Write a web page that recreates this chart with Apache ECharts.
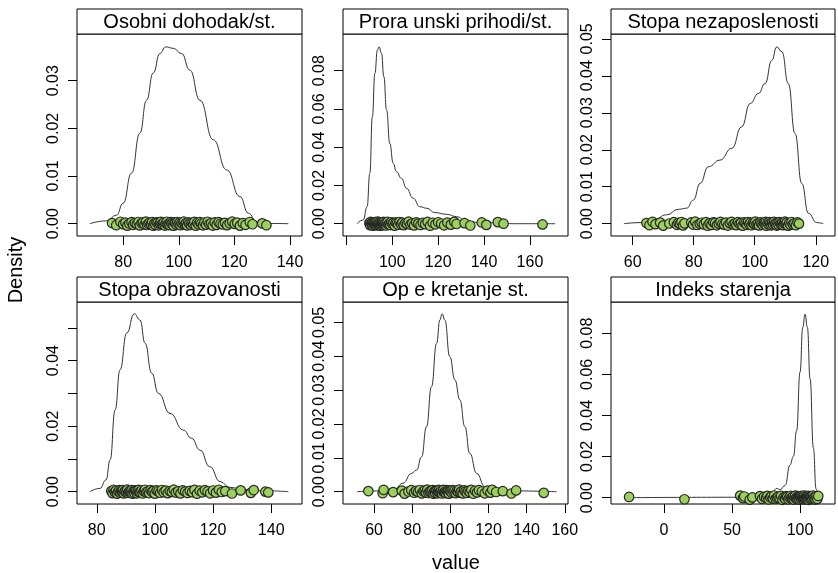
<!DOCTYPE html>
<html><head><meta charset="utf-8">
<script src="https://cdn.jsdelivr.net/npm/echarts@6/dist/echarts.min.js"></script>
<style>html,body{margin:0;padding:0;background:#fff}#c{width:838px;height:573px}</style>
</head><body><div id="c"></div>
<script>
// ---------- data ----------
const panelTitles = ["Osobni dohodak/st.", "Prora unski prihodi/st.", "Stopa nezaposlenosti",
                     "Stopa obrazovanosti", "Op e kretanje st.", "Indeks starenja"];
const xAxisTitle = "value";
const yAxisTitle = "Density";

// density curves [x, density]
const curve1 = [[68,0],[74,0.0006],[77.6,0.0018],[80,0.0043],[83,0.0106],[86,0.019],[88.4,0.0259],[90.8,0.0316],[93.2,0.0357],[95.3,0.0371],[98,0.0368],[101,0.0357],[104,0.0322],[107.6,0.0259],[112.4,0.0176],[117.2,0.0113],[122,0.0057],[125,0.0022],[128,0.0004],[132.8,0.00005],[139.4,0]];
const curve2 = [[84.6,0],[87.3,0.0019],[89,0.0089],[90.2,0.0264],[91.3,0.0559],[92.4,0.0786],[93.5,0.0908],[94.2,0.0925],[95.3,0.0891],[96.3,0.0769],[97.5,0.0594],[98.9,0.042],[100.4,0.0316],[101.8,0.0272],[104,0.0237],[106.2,0.0185],[109.1,0.0133],[112,0.0089],[114.9,0.0081],[118.6,0.0058],[123.7,0.0049],[128,0.0037],[132.4,0.0014],[138.2,0.0005],[146.9,0.0005],[152.8,0],[171,0]];
const curve3 = [[57.1,0],[62.4,0.0003],[66.8,0.001],[71.1,0.0024],[75,0.0039],[77.7,0.0042],[79.9,0.0064],[82.1,0.0109],[84.8,0.0154],[88.6,0.0172],[92.5,0.0204],[95.7,0.0262],[98.5,0.0325],[101.2,0.0352],[103.4,0.0379],[105.6,0.0442],[107.2,0.0478],[108.9,0.0465],[111,0.0379],[113.2,0.0244],[115.4,0.0109],[117.6,0.0028],[120.3,0.0003],[122.5,0]];
const curve4 = [[77.7,0],[81.1,0.001],[83.2,0.0036],[84.6,0.0097],[86.3,0.0249],[88,0.0372],[90.3,0.0484],[92.9,0.0543],[94.9,0.0524],[96.6,0.0453],[98.9,0.0362],[101.2,0.03],[105.2,0.0239],[109.8,0.0188],[112.6,0.0163],[115.5,0.0127],[118.9,0.0076],[122.4,0.0031],[125.8,0.0013],[130.4,0.0007],[137.3,0.0003],[145.9,0]];
const curve5 = [[51.1,0],[70,0.0003],[75.2,0.0025],[79.6,0.0054],[82.3,0.0064],[84.9,0.0103],[87.5,0.0192],[90.1,0.031],[92.8,0.0438],[94.5,0.0507],[95.7,0.0525],[97.1,0.0507],[99.7,0.0399],[102.4,0.033],[105,0.0271],[107.6,0.0192],[110.2,0.0113],[113.8,0.0054],[118.1,0.0015],[124.3,0.0003],[155.7,0]];
const curve6 = [[-25.7,0],[58.3,0.0002],[77.9,0.0006],[82.9,0.0045],[85.3,0.0039],[89,0.0059],[92.6,0.0159],[95.1,0.0201],[97.5,0.0326],[100,0.0611],[102,0.0828],[103.7,0.0892],[105.4,0.0828],[107.4,0.0577],[109.8,0.0243],[111.8,0.0042],[113.5,0.0002]];

// observed values (drawn as jittered points along density = 0)
const obs1 = [76,77.5,79,80,80.8,81.5,82.2,83,83.6,84.2,84.9,85.5,86,86.6,87.1,87.7,88.2,88.6,89.1,89.5,90,90.4,90.8,91.2,91.6,92,92.4,92.8,93.2,93.5,93.9,94.3,94.6,95,95.3,95.7,96,96.4,96.7,97.1,97.4,97.8,98.1,98.5,98.8,99.2,99.5,99.9,100.3,100.6,101,101.4,101.8,102.2,102.6,103,103.4,103.8,104.3,104.7,105.2,105.6,106.1,106.6,107.1,107.6,108.1,108.7,109.2,109.8,110.4,111,111.6,112.2,112.9,113.6,114.3,115,115.8,116.6,117.4,118.3,119.2,120.1,121,122,123,124,125.5,126.5,130,131.5];
const obs2 = [90,90.3,90.6,90.9,91.2,91.4,91.7,91.9,92.1,92.3,92.5,92.7,92.9,93.1,93.3,93.5,93.6,93.8,94,94.2,94.3,94.5,94.7,94.9,95.1,95.3,95.5,95.7,95.9,96.2,96.4,96.7,97,97.3,97.6,97.9,98.3,98.7,99.1,99.5,100,100.5,101,101.5,102,102.6,103.2,103.8,104.4,105,105.7,106.4,107.1,107.9,108.7,109.5,110.4,111.3,112.3,113.3,114.3,115.4,116.5,117.6,118.8,120,121.3,122.6,124,125.5,127,128,131.5,134,139,141,146,148.5,165.5];
const obs3 = [64.5,65.5,66.5,67.5,69,70,72,73.5,74.5,75,75.5,76,76.5,77,79.2,79.8,80.5,81.2,82,82.6,83.3,84,84.6,85.2,85.8,86.4,87,87.6,88.2,88.8,89.4,90,90.6,91.2,91.8,92.4,93,93.5,94,94.5,95,95.5,96,96.5,97,97.4,97.8,98.2,98.6,99,99.4,99.8,100.2,100.6,101,101.4,101.8,102.2,102.6,103,103.3,103.6,103.9,104.2,104.5,104.8,105.1,105.4,105.7,106,106.3,106.6,106.9,107.2,107.5,107.8,108.1,108.4,108.7,109,109.3,109.6,109.9,110.2,110.5,110.9,111.3,111.7,112.1,112.5,113,113.5,114,114.5];
const obs4 = [85,85.4,85.8,86.2,86.6,87,87.4,87.8,88.1,88.4,88.7,89,89.3,89.6,89.9,90.2,90.5,90.8,91.1,91.4,91.7,92,92.3,92.6,92.9,93.2,93.5,93.8,94.1,94.4,94.7,95,95.4,95.8,96.2,96.6,97,97.5,98,98.5,99,99.5,100,100.6,101.2,101.8,102.4,103,103.7,104.4,105.1,105.8,106.5,107.2,108,108.8,109.6,110.4,111.2,112,112.8,113.6,114.5,115.4,116.3,117.2,118.1,119,120,121,122,123,124.2,126.5,129.5,133,134,138,139];
const obs5 = [57,64.5,65,70,74.5,76,78,79.5,81,82,83,84,85,85.8,86.5,87.2,87.9,88.5,89.1,89.6,90.1,90.6,91.1,91.6,92,92.4,92.8,93.2,93.6,94,94.4,94.8,95.2,95.6,96,96.4,96.8,97.2,97.6,98,98.4,98.8,99.2,99.7,100.2,100.7,101.2,101.7,102.2,102.8,103.4,104,104.6,105.2,105.8,106.5,107.2,107.9,108.6,109.4,110.2,111,112,113,114,115,116.5,118,119.5,121,122,124,127.5,132,134.5,149];
const obs6 = [-25.7,15,56,58,59,63,65,70.5,72,73.5,75,76,77,78,79,80,81,82,83,84,85,86,87,88,89,89.8,90.6,91.4,92.2,93,93.6,94.2,94.8,95.4,96,96.5,97,97.5,98,98.4,98.8,99.2,99.6,100,100.4,100.8,101.2,101.6,102,102.3,102.6,102.9,103.2,103.5,103.8,104.1,104.4,104.7,105,105.3,105.6,105.9,106.2,106.5,106.9,107.3,107.7,108.1,108.6,109.1,109.6,110.2,110.8,111.4,112,112.7,113.4];
// vertical jitter of each point, as a fraction of the jitter amount (fixed values)
const jitter = [0.3,-0.7,0.9,-0.2,0.5,-0.9,0.1,0.7,-0.5,0.4,-0.1,0.8,-0.8,0.2,0.6,-0.4,0.95,-0.6,0,0.45,
  -0.3,0.75,-0.95,0.15,-0.55,0.65,0.35,-0.75,0.05,0.85,-0.15,-0.45,0.55,-0.85,0.25,0.9,-0.35,0.1,-0.65,0.7,
  -0.05,0.4,-0.9,0.6,0.2,-0.5,0.8,-0.25,0.5,-0.7,0.3,-0.1,0.95,-0.4,0.15,-0.8,0.65,0.05,-0.6,0.35,
  -0.2,0.85,-0.95,0.45,-0.3,0.7,0.1,-0.75,0.55,-0.45,0.9,-0.15,0.25,-0.85,0.6,-0.55,0.75,0,-0.35,0.4,
  -0.65,0.2,0.95,-0.1,0.5,-0.9,0.3,-0.5,0.8,-0.25,0.15,-0.7,0.65,0.05,-0.4,0.85,-0.8,0.35,-0.05,0.55];
const jitterAmount = [0.00045, 0.0011, 0.00058, 0.00065, 0.00063, 0.0011];

// tick values
const xTicks1 = [80,100,120,140],        xLabels1 = [80,100,120,140];
const xTicks2 = [80,100,120,140,160],    xLabels2 = [100,120,140,160];
const xTicks3 = [60,80,100,120],         xLabels3 = [60,80,100,120];
const xTicks4 = [80,100,120,140],        xLabels4 = [80,100,120,140];
const xTicks5 = [60,80,100,120,140,160], xLabels5 = [60,80,100,120,140,160];
const xTicks6 = [0,50,100],              xLabels6 = [0,50,100];
const yTicks1 = [0,0.01,0.02,0.03],             yLabels1 = [0,0.01,0.02,0.03];
const yTicks2 = [0,0.02,0.04,0.06,0.08],        yLabels2 = [0,0.02,0.04,0.06,0.08];
const yTicks3 = [0,0.01,0.02,0.03,0.04,0.05],   yLabels3 = [0,0.01,0.02,0.03,0.04,0.05];
const yTicks4 = [0,0.01,0.02,0.03,0.04,0.05],   yLabels4 = [0,0.02,0.04];
const yTicks5 = [0,0.01,0.02,0.03,0.04,0.05],   yLabels5 = [0,0.01,0.02,0.03,0.04,0.05];
const yTicks6 = [0,0.02,0.04,0.06,0.08],        yLabels6 = [0,0.02,0.04,0.06,0.08];

// axis ranges
const xRange = [[63.4,144.3],[78.5,176.6],[52.9,126.3],[73.2,150.6],[43.7,161.7],[-39,125.7]];
const yRange = [[-0.00258,0.0398],[-0.00643,0.0992],[-0.00332,0.0513],[-0.00376,0.0579],[-0.00363,0.056],[-0.00309,0.0952]];

// ---------- layout ----------
const FONT = '"Liberation Sans", Arial, Helvetica, sans-serif';
const colLeft = [77, 343, 611], colWidth = [225, 225, 224];
const rowTop = [9, 277], stripH = 25, plotH = 202;

const curves = [curve1, curve2, curve3, curve4, curve5, curve6];
const observations = [obs1, obs2, obs3, obs4, obs5, obs6];
const xTicks = [xTicks1, xTicks2, xTicks3, xTicks4, xTicks5, xTicks6];
const xLabels = [xLabels1, xLabels2, xLabels3, xLabels4, xLabels5, xLabels6];
const yTicks = [yTicks1, yTicks2, yTicks3, yTicks4, yTicks5, yTicks6];
const yLabels = [yLabels1, yLabels2, yLabels3, yLabels4, yLabels5, yLabels6];

const grids = [], xAxes = [], yAxes = [], series = [], graphics = [];
for (let i = 0; i < 6; i++) {
  const r = Math.floor(i / 3), c = i % 3;
  const L = colLeft[c], W = colWidth[c], T = rowTop[r];
  grids.push({left: L, top: T + stripH, width: W, height: plotH, show: true,
              borderColor: '#000', borderWidth: 1, backgroundColor: 'transparent', containLabel: false});
  xAxes.push({type: 'value', gridIndex: i, min: xRange[i][0], max: xRange[i][1], position: 'bottom',
    axisLine: {show: false, onZero: false}, splitLine: {show: false},
    axisTick: {show: true, inside: false, length: 9, customValues: xTicks[i], lineStyle: {color: '#000', width: 1}},
    axisLabel: {show: true, customValues: xLabels[i], margin: 19, color: '#000', fontSize: 16, fontFamily: FONT,
      formatter: v => String(Math.round(v))}});
  yAxes.push({type: 'value', gridIndex: i, min: yRange[i][0], max: yRange[i][1], position: 'left',
    axisLine: {show: false, onZero: false}, splitLine: {show: false},
    axisTick: {show: true, inside: false, length: 9, customValues: yTicks[i], lineStyle: {color: '#000', width: 1}},
    axisLabel: {show: true, customValues: yLabels[i], rotate: 90, margin: 15, color: '#000', fontSize: 16, fontFamily: FONT,
      formatter: v => v.toFixed(2)}});
  series.push({type: 'line', xAxisIndex: i, yAxisIndex: i, data: curves[i], showSymbol: false,
    smooth: 0.5, smoothMonotone: 'x', lineStyle: {color: '#333', width: 1}, silent: true, z: 2});
  const pts = observations[i].map((x, k) => [x, jitter[k % jitter.length] * jitterAmount[i]]);
  series.push({type: 'scatter', xAxisIndex: i, yAxisIndex: i, data: pts, symbol: 'circle', symbolSize: 9.5,
    itemStyle: {color: '#9DD15E', borderColor: '#262626', borderWidth: 1.2, opacity: 1}, silent: true, z: 3});
  graphics.push({type: 'rect', shape: {x: L, y: T, width: W, height: stripH},
    style: {fill: '#fff', stroke: '#000', lineWidth: 1}, z: 10});
  graphics.push({type: 'text', x: L + W / 2, y: T + stripH / 2 + 1,
    style: {text: panelTitles[i], font: '20px ' + FONT, fill: '#000', align: 'center', verticalAlign: 'middle',
            textAlign: 'center', textVerticalAlign: 'middle'}, z: 11});
}
graphics.push({type: 'text', x: 456, y: 563,
  style: {text: xAxisTitle, font: '20px ' + FONT, fill: '#000', align: 'center', verticalAlign: 'middle',
          textAlign: 'center', textVerticalAlign: 'middle'}});
graphics.push({type: 'text', x: 16, y: 270, rotation: Math.PI / 2,
  style: {text: yAxisTitle, font: '20px ' + FONT, fill: '#000', align: 'center', verticalAlign: 'middle',
          textAlign: 'center', textVerticalAlign: 'middle'}});

const chart = echarts.init(document.getElementById('c'), null, {renderer: 'canvas'});
chart.setOption({animation: false, backgroundColor: '#fff', grid: grids, xAxis: xAxes, yAxis: yAxes,
  series: series, graphic: graphics});
</script></body></html>
